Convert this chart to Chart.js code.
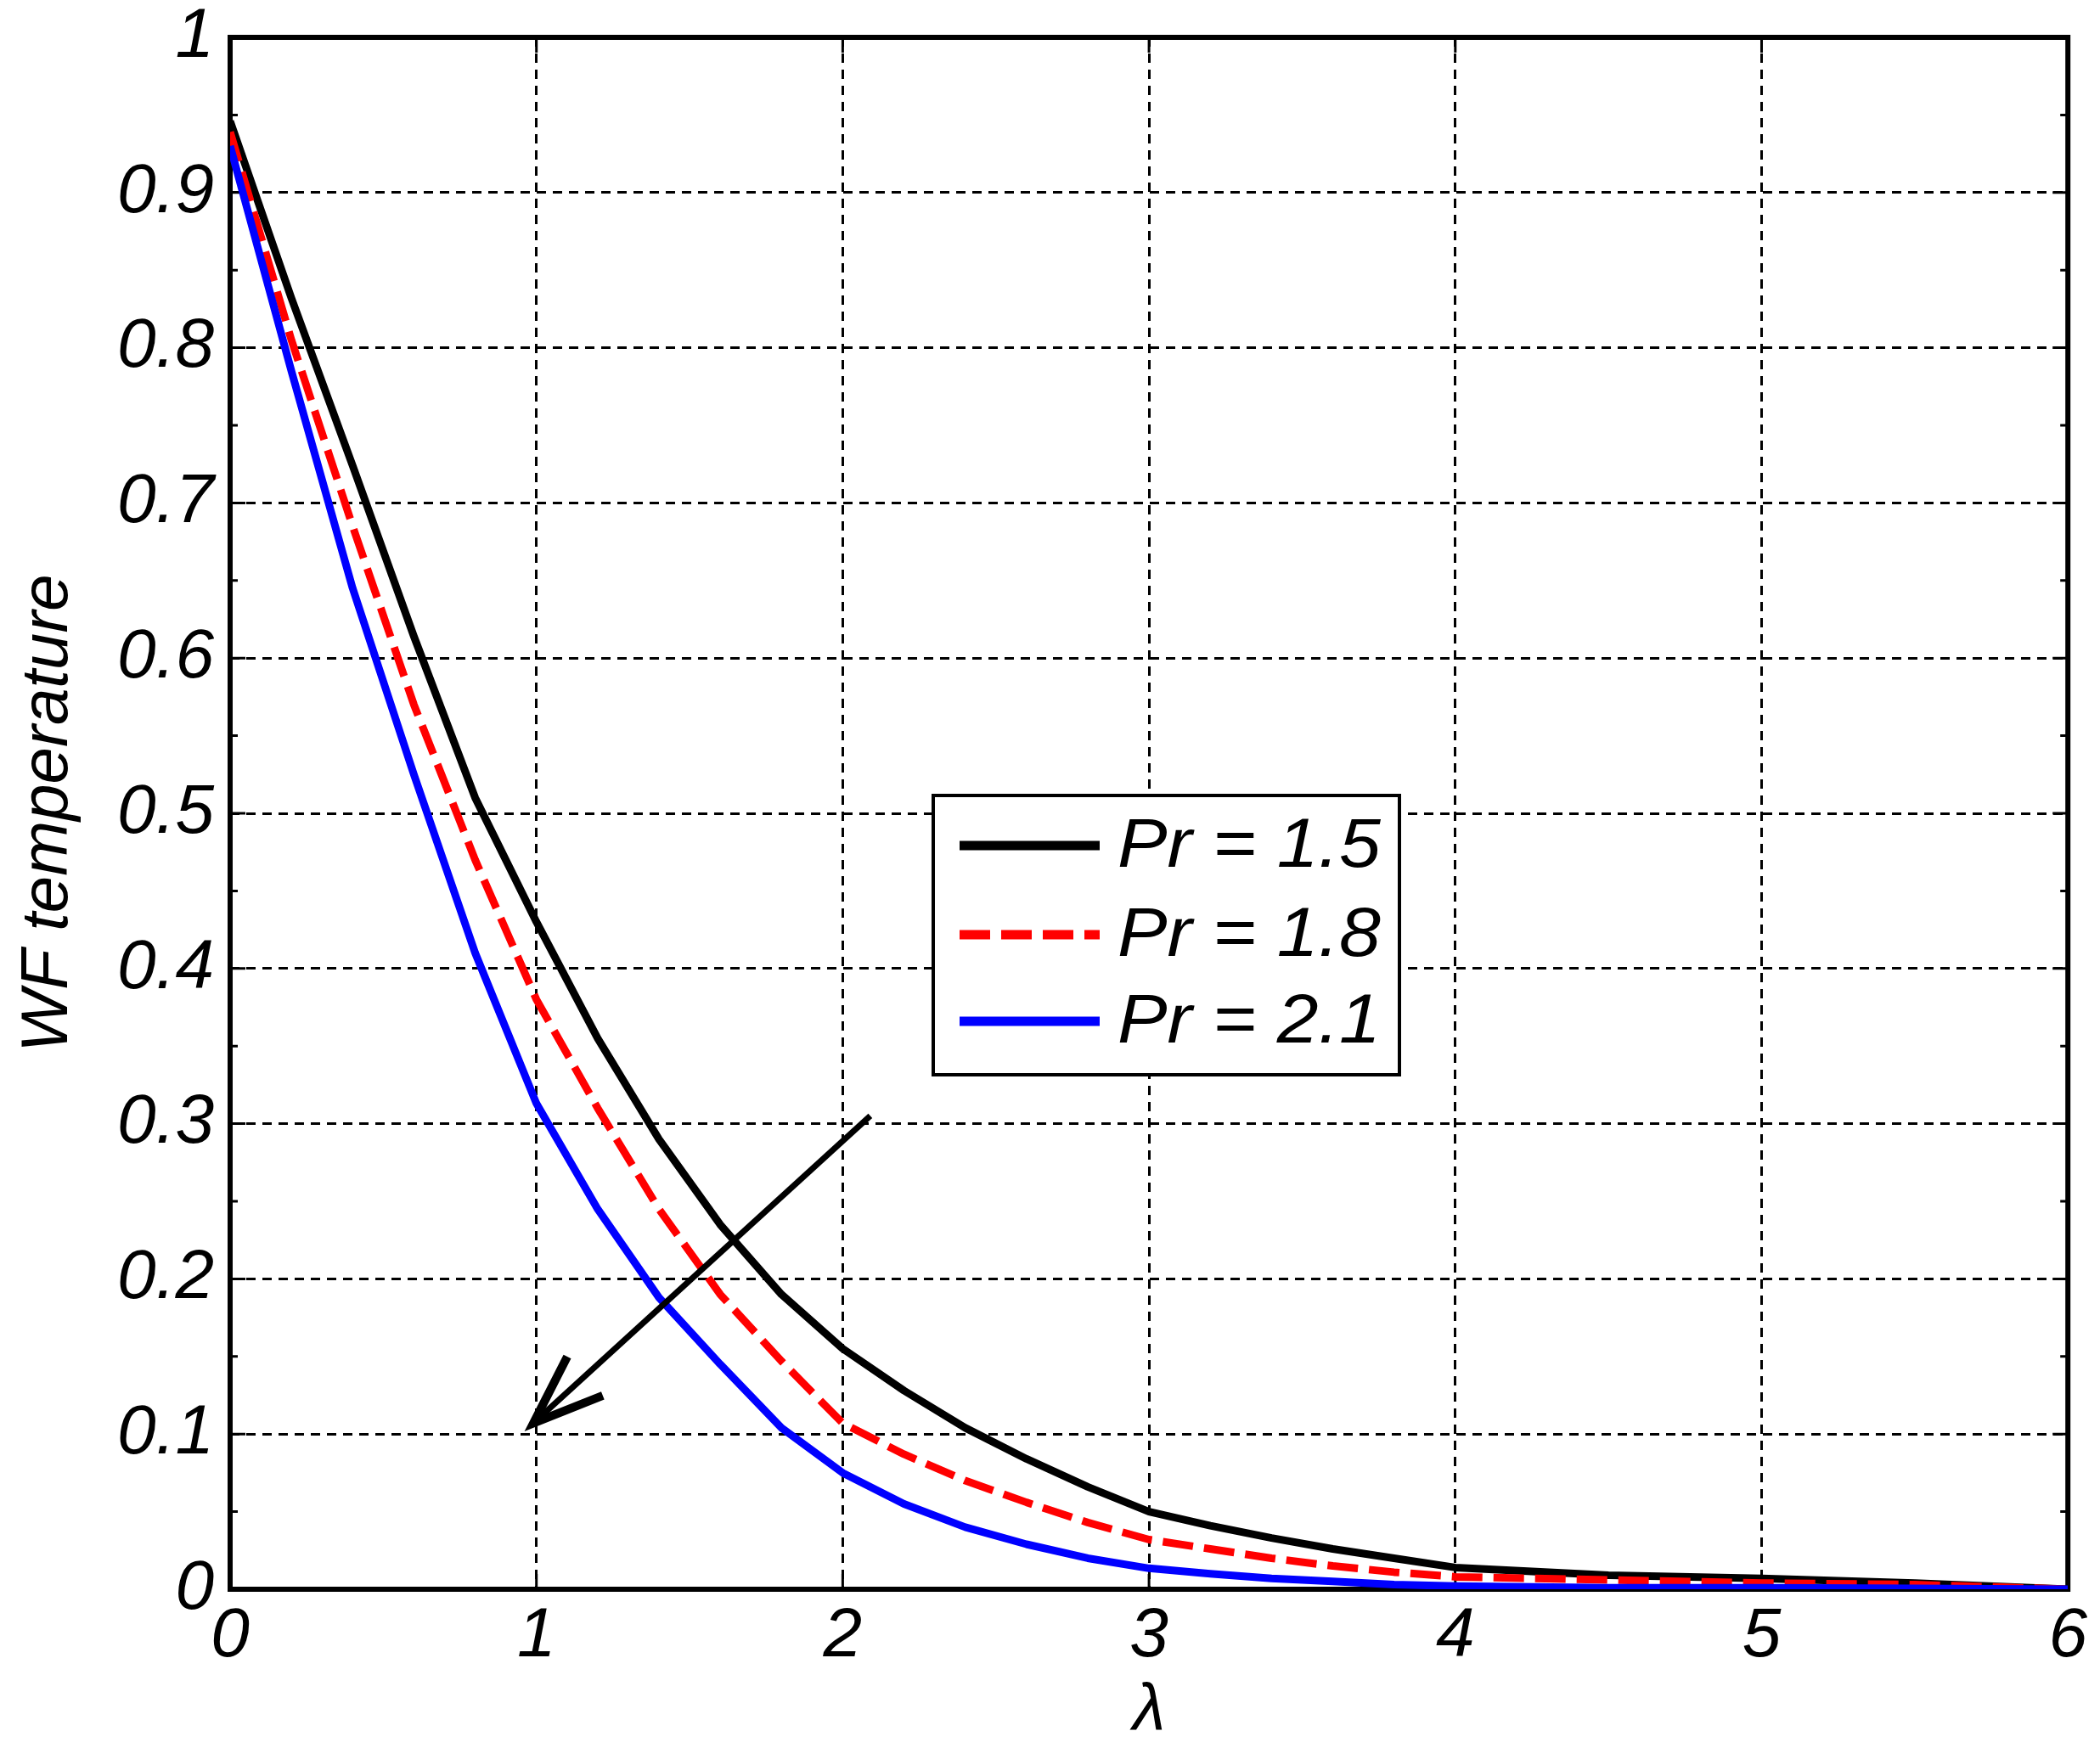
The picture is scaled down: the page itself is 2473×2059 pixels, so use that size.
<!DOCTYPE html>
<html>
<head>
<meta charset="utf-8">
<script src="https://cdn.jsdelivr.net/npm/chart.js@4.4.1/dist/chart.umd.min.js"></script>
<style>
  html, body { margin: 0; padding: 0; background: #fff; }
  #wrap { width: 2473px; height: 2059px; }
</style>
</head>
<body>
<div id="wrap"><canvas id="grafikSuhu" width="2473" height="2059"></canvas></div>
<script>
// values
const lambda = [0, 0.2, 0.4, 0.6, 0.8, 1.0, 1.2, 1.4, 1.6, 1.8, 2.0, 2.2, 2.4, 2.6, 2.8, 3.0,
                3.2, 3.4, 3.6, 3.8, 4.0, 4.5, 5.0, 5.5, 6.0];
const pr15 = [0.946, 0.832, 0.724, 0.614, 0.51, 0.43, 0.355, 0.29, 0.235, 0.19, 0.155, 0.128, 0.104,
              0.084, 0.066, 0.05, 0.041, 0.033, 0.026, 0.02, 0.014, 0.009, 0.007, 0.004, 0];
const pr18 = [0.939, 0.805, 0.685, 0.57, 0.47, 0.38, 0.31, 0.245, 0.19, 0.147, 0.107, 0.087, 0.07,
              0.056, 0.043, 0.032, 0.026, 0.02, 0.015, 0.011, 0.008, 0.006, 0.004, 0.003, 0];
const pr21 = [0.93, 0.785, 0.645, 0.525, 0.41, 0.313, 0.245, 0.188, 0.145, 0.104, 0.075, 0.055, 0.04,
              0.029, 0.02, 0.0135, 0.01, 0.007, 0.005, 0.003, 0.002, 0.001, 0.001, 0.0005, 0];
const seriesNames = ["Pr = 1.5", "Pr = 1.8", "Pr = 2.1"];
const xTickLabels = ["0", "1", "2", "3", "4", "5", "6"];
const yTickLabels = ["0", "0.1", "0.2", "0.3", "0.4", "0.5", "0.6", "0.7", "0.8", "0.9", "1"];
const arrowFrom = [2.09, 0.305];
const arrowTo = [0.99, 0.107];

const fontFam = "'Liberation Sans', Arial, sans-serif";

function toPoints(ys) {
    return lambda.map((x, i) => ({ x: x, y: ys[i] }));
}

function labelFor(list, value) {
    const hit = list.find(t => Math.abs(parseFloat(t) - value) < 1e-9);
    return hit === undefined ? "" : hit;
}

// axis box + inward tick marks, matlab style
const kotakSumbu = {
    id: "kotakSumbu",
    beforeDatasetsDraw(chart) {
        const { ctx, chartArea: a, scales: { x, y } } = chart;
        ctx.save();
        ctx.strokeStyle = "#000";
        ctx.lineWidth = 3;
        ctx.beginPath();
        xTickLabels.forEach(t => {
            const px = x.getPixelForValue(parseFloat(t));
            ctx.moveTo(px, a.bottom); ctx.lineTo(px, a.bottom - 18);
            ctx.moveTo(px, a.top); ctx.lineTo(px, a.top + 18);
        });
        yTickLabels.forEach(t => {
            const py = y.getPixelForValue(parseFloat(t));
            ctx.moveTo(a.left, py); ctx.lineTo(a.left + 18, py);
            ctx.moveTo(a.right, py); ctx.lineTo(a.right - 18, py);
        });
        for (let i = 0; i < yTickLabels.length - 1; i++) {
            const mid = (parseFloat(yTickLabels[i]) + parseFloat(yTickLabels[i + 1])) / 2;
            const py = y.getPixelForValue(mid);
            ctx.moveTo(a.left, py); ctx.lineTo(a.left + 9, py);
            ctx.moveTo(a.right, py); ctx.lineTo(a.right - 9, py);
        }
        ctx.stroke();
        ctx.lineWidth = 6;
        ctx.strokeRect(a.left, a.top, a.right - a.left, a.bottom - a.top);
        ctx.restore();
    }
};

// boxed legend + arrow
const legendaPanah = {
    id: "legendaPanah",
    afterDatasetsDraw(chart) {
        const { ctx, scales: { x, y } } = chart;
        ctx.save();

        // arrow
        const x0 = x.getPixelForValue(arrowFrom[0]), y0 = y.getPixelForValue(arrowFrom[1]);
        const x1 = x.getPixelForValue(arrowTo[0]), y1 = y.getPixelForValue(arrowTo[1]);
        ctx.strokeStyle = "#000";
        ctx.lineCap = "butt";
        ctx.lineWidth = 7;
        ctx.beginPath();
        ctx.moveTo(x0, y0); ctx.lineTo(x1, y1);
        ctx.stroke();
        const ang = Math.atan2(y0 - y1, x0 - x1);
        ctx.lineWidth = 10;
        ctx.lineJoin = "miter";
        ctx.beginPath();
        ctx.moveTo(x1 + 88 * Math.cos(ang - 0.36), y1 + 88 * Math.sin(ang - 0.36));
        ctx.lineTo(x1, y1);
        ctx.lineTo(x1 + 88 * Math.cos(ang + 0.36), y1 + 88 * Math.sin(ang + 0.36));
        ctx.stroke();

        // legend
        const box = { left: 1099, top: 937, right: 1648, bottom: 1266 };
        const rows = [996, 1101, 1203];
        ctx.fillStyle = "#fff";
        ctx.fillRect(box.left, box.top, box.right - box.left, box.bottom - box.top);
        ctx.lineWidth = 4;
        ctx.strokeStyle = "#000";
        ctx.strokeRect(box.left, box.top, box.right - box.left, box.bottom - box.top);
        chart.data.datasets.forEach((ds, i) => {
            ctx.strokeStyle = ds.borderColor;
            ctx.lineWidth = 11;
            ctx.setLineDash(ds.borderDash || []);
            ctx.beginPath();
            ctx.moveTo(1130, rows[i]); ctx.lineTo(1295, rows[i]);
            ctx.stroke();
            ctx.setLineDash([]);
            ctx.save();
            ctx.translate(1316, rows[i] + 2);
            ctx.scale(1.07, 1);
            ctx.fillStyle = "#000";
            ctx.font = "italic 82px " + fontFam;
            ctx.textBaseline = "middle";
            ctx.textAlign = "left";
            ctx.fillText(ds.label, 0, 0);
            ctx.restore();
        });
        ctx.restore();
    }
};

new Chart(document.getElementById("grafikSuhu"), {
    type: "line",
    data: {
        datasets: [
            {
                label: seriesNames[0],
                data: toPoints(pr15),
                borderColor: "#000000",
                borderWidth: 9,
                order: 3,
            },
            {
                label: seriesNames[1],
                data: toPoints(pr18),
                borderColor: "#ff0000",
                borderWidth: 9,
                borderDash: [36, 13],
                order: 2,
            },
            {
                label: seriesNames[2],
                data: toPoints(pr21),
                borderColor: "#0000ff",
                borderWidth: 9,
                order: 1,
            },
        ],
    },
    options: {
        responsive: false,
        devicePixelRatio: 1,
        animation: false,
        elements: {
            point: { radius: 0 },
            line: { tension: 0, fill: false, borderJoinStyle: "round" },
        },
        layout: { padding: { left: 0, right: 37, top: 44, bottom: 0 } },
        plugins: { legend: { display: false }, tooltip: { enabled: false } },
        scales: {
            x: {
                type: "linear",
                min: 0,
                max: 6,
                afterFit(s) { s.height = 187; },
                afterBuildTicks(s) { s.ticks = xTickLabels.map(t => ({ value: parseFloat(t) })); },
                ticks: {
                    color: "#000",
                    padding: 15,
                    maxRotation: 0,
                    autoSkip: false,
                    font: { family: fontFam, size: 82, style: "italic", lineHeight: 1 },
                    callback: v => labelFor(xTickLabels, v),
                },
                grid: { color: "#000", lineWidth: 3, drawTicks: false },
                border: { display: false, dash: [11, 8] },
                title: {
                    display: true,
                    text: "λ",
                    color: "#000",
                    padding: { top: 0, bottom: 0 },
                    font: { family: fontFam, size: 78, style: "italic", lineHeight: 1.1 },
                },
            },
            y: {
                min: 0,
                max: 1,
                afterFit(s) { s.width = 271; },
                afterBuildTicks(s) { s.ticks = yTickLabels.map(t => ({ value: parseFloat(t) })); },
                ticks: {
                    color: "#000",
                    padding: 19,
                    autoSkip: false,
                    font: { family: fontFam, size: 82, style: "italic", lineHeight: 0.3 },
                    callback: v => labelFor(yTickLabels, v),
                },
                grid: { color: "#000", lineWidth: 3, drawTicks: false },
                border: { display: false, dash: [11, 8] },
                title: {
                    display: true,
                    text: "WF temperature",
                    color: "#000",
                    padding: { top: 10, bottom: 0 },
                    font: { family: fontFam, size: 78, style: "italic", lineHeight: 1.2 },
                },
            },
        },
    },
    plugins: [kotakSumbu, legendaPanah],
});
</script>
</body>
</html>
